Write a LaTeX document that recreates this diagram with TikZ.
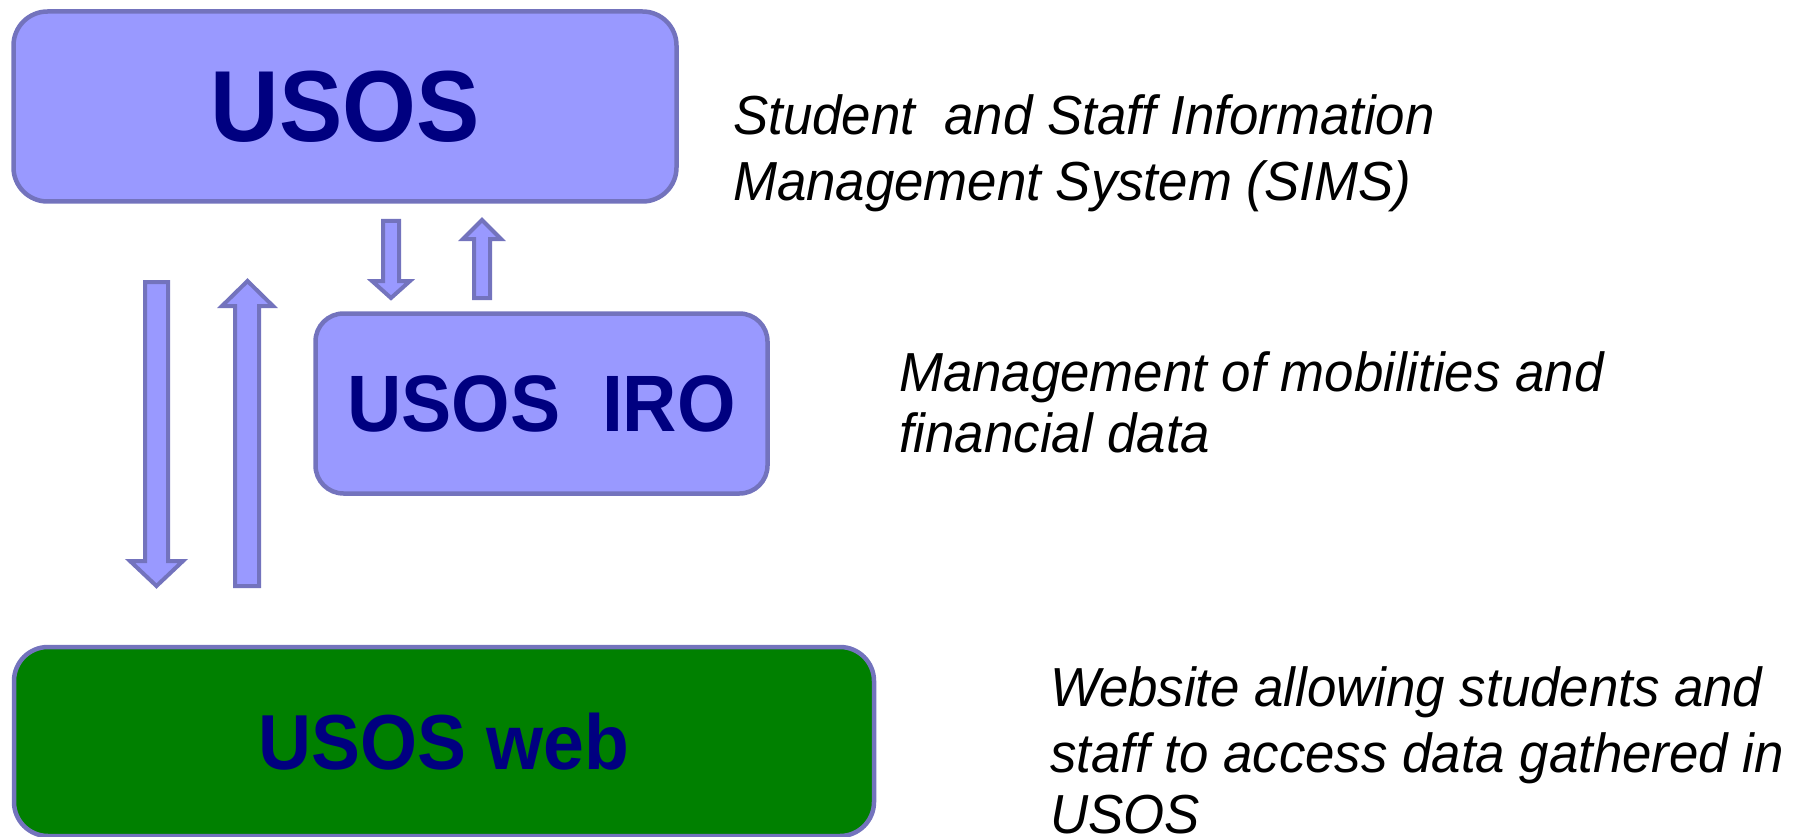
\documentclass[tikz,border=0pt]{standalone}
\usepackage{fontspec}
\setmainfont{Liberation Sans}[FakeStretch=0.95]
\newfontfamily\boxfont{Liberation Sans}[FakeStretch=0.94]
\newfontfamily\descfont{Liberation Sans}[FakeStretch=0.96]
\definecolor{boxfill}{HTML}{9999FF}
\definecolor{boxline}{HTML}{7373BD}
\definecolor{navytext}{HTML}{000080}
\definecolor{webgreen}{HTML}{008000}
\begin{document}
\begin{tikzpicture}[x=1pt,y=-1pt,
  sysbox/.style={draw=boxline, line width=4.5pt, rounded corners=34pt, fill=boxfill,
    text=navytext, inner sep=0pt, font=\boxfont\bfseries},
  blockarrow/.style={draw=boxline, line width=4pt, fill=boxfill, line join=miter},
  desc/.style={anchor=base west, inner sep=0pt, font=\descfont\itshape\fontsize{55}{64}\selectfont}]
\useasboundingbox (0,0) rectangle (1804,837);
% boxes
\node[sysbox, minimum width=663pt, minimum height=190pt,
  font=\boxfont\bfseries\fontsize{101}{110}\selectfont] (usos) at (345,106.5) {USOS};
\node[sysbox, rounded corners=28pt, minimum width=452pt, minimum height=180pt,
  font=\boxfont\bfseries\fontsize{80}{90}\selectfont] (iro) at (541.5,403.5) {USOS\ \ IRO};
\node[sysbox, fill=webgreen, minimum width=860pt, minimum height=189pt,
  font=\boxfont\bfseries\fontsize{78}{88}\selectfont] (web) at (444,741.5) {USOS web};
% block arrows
\path[blockarrow] (145,282) -- (168,282) -- (168,561) -- (183,561) -- (156.5,586) -- (130,561) -- (145,561) -- cycle;
\path[blockarrow] (235,586) -- (259,586) -- (259,306) -- (273,306) -- (247.5,281) -- (222,306) -- (235,306) -- cycle;
\path[blockarrow] (383,221) -- (399,221) -- (399,281) -- (410,281) -- (391,298) -- (372,281) -- (383,281) -- cycle;
\path[blockarrow] (474,298) -- (490,298) -- (490,239) -- (501,239) -- (482,220) -- (463,239) -- (474,239) -- cycle;
% descriptions
\node[desc] (d1a) at (733,135) {Student\ \ and Staff Information};
\node[desc] (d1b) at (733,201) {Management System (SIMS)};
\node[desc] (d2a) at (899,391) {Management of mobilities and};
\node[desc] (d2b) at (899,452) {financial data};
\node[desc] (d3a) at (1050,706) {Website allowing students and};
\node[desc] (d3b) at (1050,772) {staff to access data gathered in};
\node[desc] (d3c) at (1050,833) {USOS};
\end{tikzpicture}
\end{document}
